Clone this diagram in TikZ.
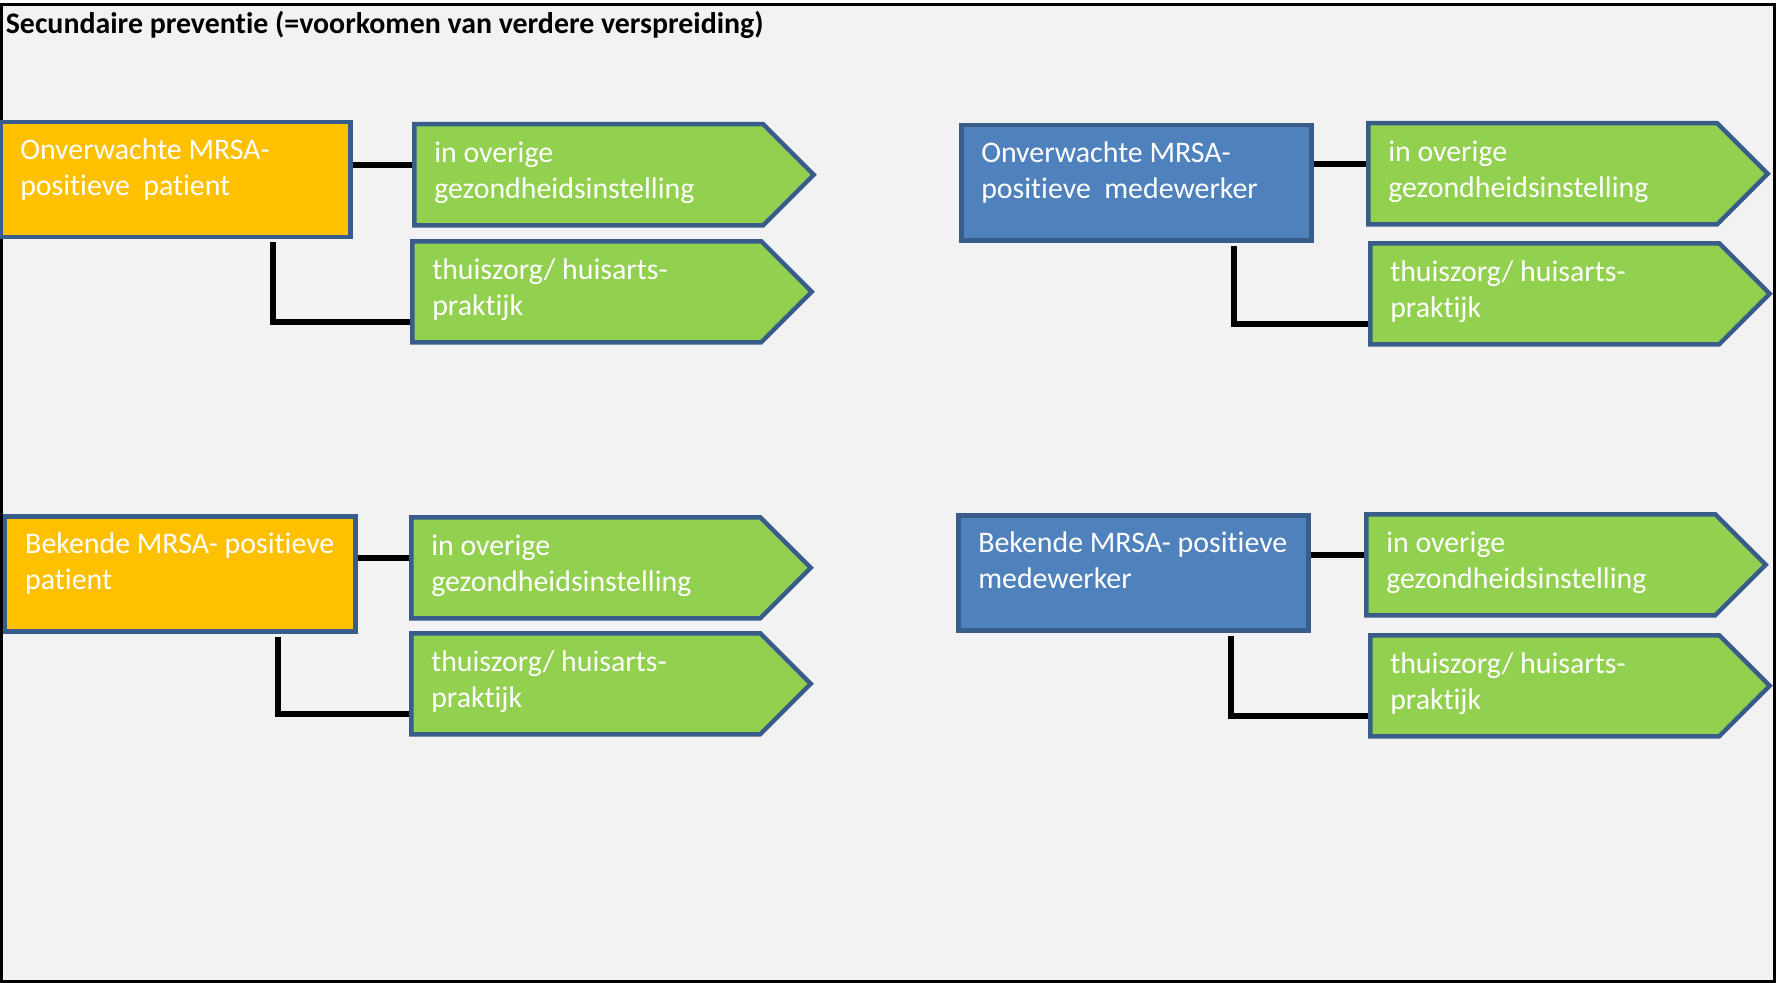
\documentclass[tikz,border=0pt]{standalone}
\usepackage{fontspec}
\setmainfont{Carlito}[Ligatures=NoCommon]
\usetikzlibrary{shapes.symbols}
\definecolor{rand}{HTML}{385D8A}
\definecolor{oranje}{HTML}{FFC000}
\definecolor{blauw}{HTML}{4F81BD}
\definecolor{groen}{HTML}{92D050}
\definecolor{achtergrond}{HTML}{F2F2F2}
\tikzset{
	vak/.style={draw=rand, line width=0.09cm, text=white, minimum width=7cm, minimum height=2.3cm, text width=6.2cm, inner xsep=0.4cm, text height=0.42cm, text depth=1.24cm, align=flush left, anchor=north west, font=\fontsize{17}{20.5}\selectfont},
	patvak/.style={vak, fill=oranje},
	mwvak/.style={vak, fill=blauw},
	doel/.style={signal, signal to=east, draw=rand, fill=groen, line width=0.09cm, text=white, minimum height=2.02cm, text width=6.18cm, inner xsep=0.4cm, text height=0.42cm, text depth=0.92cm, align=flush left, anchor=north west, font=\fontsize{17}{20.5}\selectfont},
	lijn/.style={line width=0.12cm}
}

\begin{document}
\begin{tikzpicture}
	\useasboundingbox (0,0) rectangle (35.52,-19.66);
	\draw[line width=0.06cm, fill=achtergrond] (0.03,-0.1) rectangle (35.49,-19.63);
	\node[anchor=base west, inner sep=0, font=\fontsize{17}{20}\selectfont\bfseries] (titel) at (0.11,-0.68) {Secundaire preventie (=voorkomen van verdere verspreiding)};

	% patient links, medewerker rechts
	\node[patvak] (pat1) at (-0.04,-2.40) {Onverwachte MRSA-\\positieve~~patient};
	\node[mwvak] (mw1) at (19.18,-2.46) {Onverwachte MRSA-\\positieve~~medewerker};
	\node[patvak] (pat2) at (0.06,-10.28) {Bekende MRSA- positieve\\patient};
	\node[mwvak] (mw2) at (19.12,-10.26) {Bekende MRSA- positieve\\medewerker};

	\node[doel] (g1a) at (8.24,-2.44) {in overige\\gezondheidsinstelling};
	\node[doel] (g1b) at (8.20,-4.78) {thuiszorg/ huisarts-\\praktijk};
	\node[doel] (g2a) at (27.32,-2.42) {in overige\\gezondheidsinstelling};
	\node[doel] (g2b) at (27.36,-4.82) {thuiszorg/ huisarts-\\praktijk};
	\node[doel] (g3a) at (8.18,-10.30) {in overige\\gezondheidsinstelling};
	\node[doel] (g3b) at (8.18,-12.62) {thuiszorg/ huisarts-\\praktijk};
	\node[doel] (g4a) at (27.28,-10.24) {in overige\\gezondheidsinstelling};
	\node[doel] (g4b) at (27.36,-12.66) {thuiszorg/ huisarts-\\praktijk};

	\foreach \b/\g in {pat1/g1, mw1/g2, pat2/g3, mw2/g4}
	{
		\coordinate (\g hor) at ([yshift=2mm]\g a.west);
		\draw[lijn] (\b.east |- \g hor) -- (\g hor);
		\coordinate (\g ver) at ([yshift=-6mm]\g b.west);
		\draw[lijn] ([xshift=-16mm, yshift=-0.6mm]\b.south east) |- (\g ver);
	}
\end{tikzpicture}
\end{document}
